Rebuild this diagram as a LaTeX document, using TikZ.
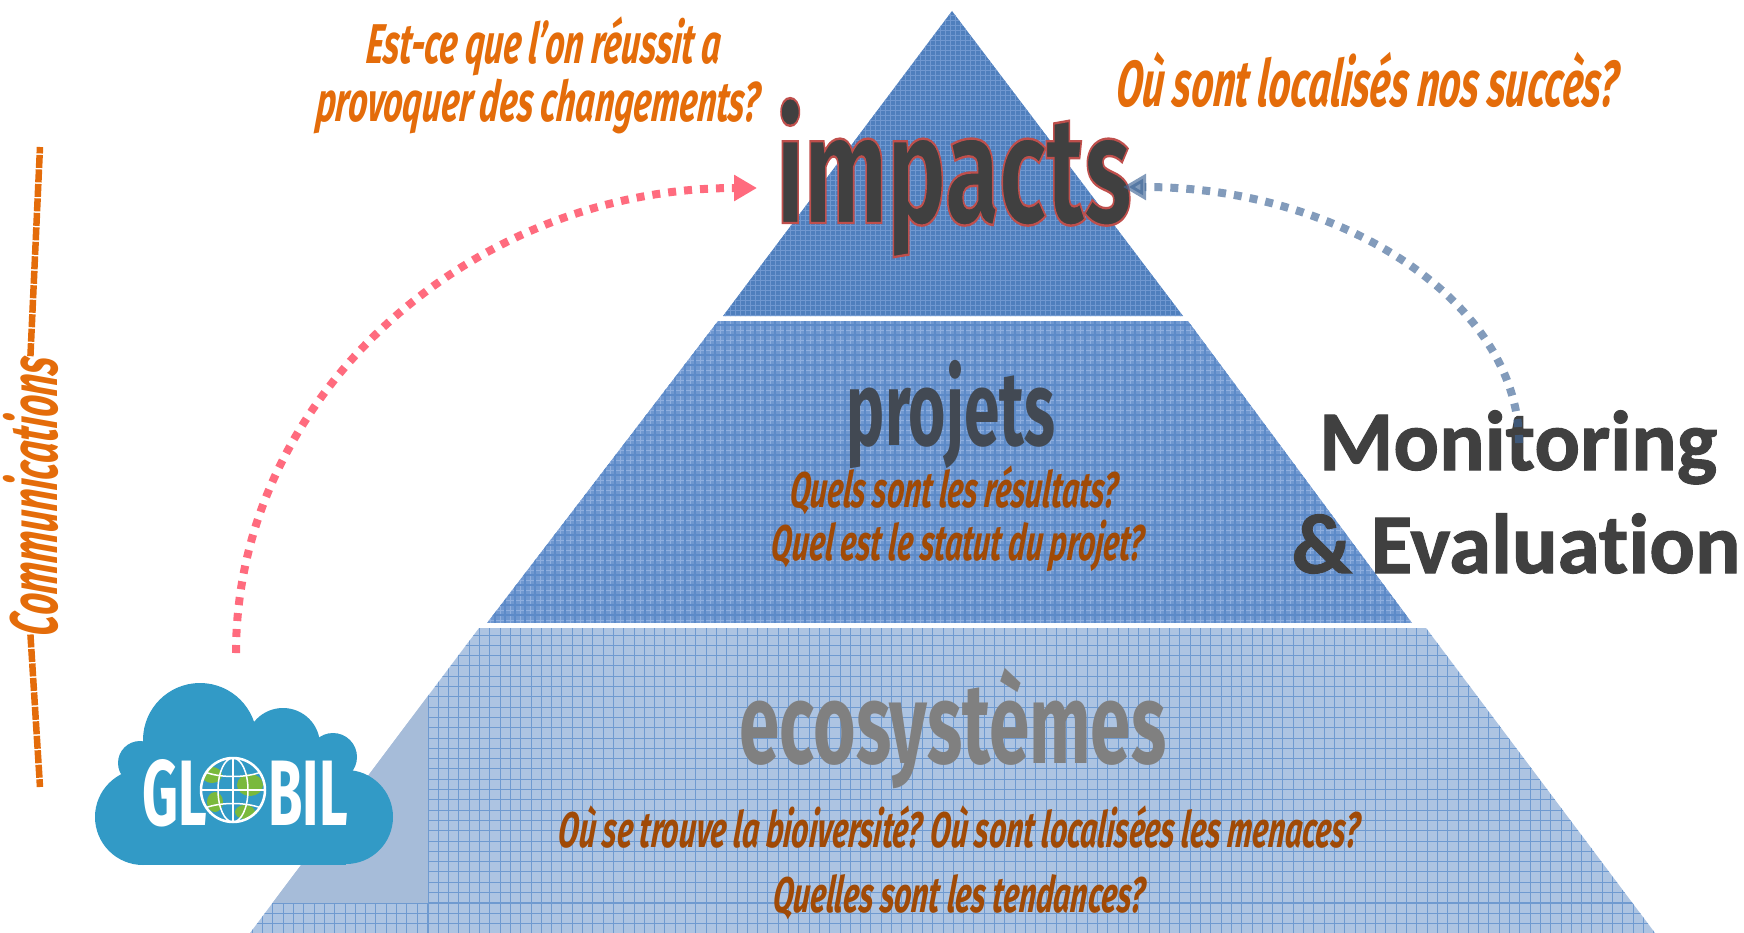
\documentclass[tikz,border=0pt]{standalone}
\usepackage{fontspec}
\setmainfont{Fira Sans}
\newfontfamily\monfont{Carlito}[Ligatures=NoCommon,BoldFeatures={FakeBold=1.2}]
\usetikzlibrary{arrows.meta}
\definecolor{orangeq}{HTML}{E46C0A}
\definecolor{brownq}{HTML}{A04A06}
\definecolor{darkword}{HTML}{404040}
\definecolor{cloudblue}{HTML}{329AC6}
\definecolor{landgreen}{HTML}{7AB93C}
\definecolor{redarrow}{HTML}{FF6B7E}
\definecolor{tierone}{HTML}{4F7FBD}
\definecolor{tiertwo}{HTML}{7098D0}
\definecolor{tierthree}{HTML}{ADC4E2}
\definecolor{tierflat}{HTML}{A6BCD9}
\definecolor{gridblue}{HTML}{6F9AD0}
\definecolor{gridtwo}{HTML}{5C8AC8}
\definecolor{palegrid}{HTML}{8FAFDF}
\begin{document}
\begin{tikzpicture}[x=1pt,y=-1pt]
    \tikzstyle{marrs}=[line width=8pt,dash pattern=on 8pt off 8pt,-{Triangle[length=23pt,width=25pt]}]
    \tikzstyle{qorange}=[anchor=base,inner sep=0pt,text=orangeq,align=center,xslant=0.1,font=\fontsize{56}{58}\selectfont\bfseries\itshape]
    \tikzstyle{qbrown}=[anchor=base,inner sep=0pt,text=brownq,xslant=0.1,font=\fontsize{50}{52}\selectfont\bfseries\itshape,xscale=0.6]
    \tikzstyle{tierword}=[anchor=base,inner sep=0pt,font=\bfseries]
    \tikzstyle{logoword}=[anchor=base,inner sep=0pt,text=white,font=\fontsize{93}{93}\selectfont\bfseries,xscale=0.6]
    \tikzstyle{monword}=[anchor=base,inner sep=0pt,text=darkword,font=\fontsize{85}{85}\selectfont\monfont\bfseries]

    \useasboundingbox (0,0) rectangle (1744,933);

    % top tier
    \begin{scope}
        \clip (952,11) -- (1183,316) -- (723,316) -- cycle;
        \fill[tierone] (700,0) rectangle (1200,320);
        \foreach \x in {720,725,...,1190} {
            \draw[line width=0.7pt,tiertwo] (\x,0) -- (\x,320);
        }
        \foreach \y in {10,15,...,320} {
            \draw[line width=0.7pt,tiertwo] (700,\y) -- (1200,\y);
        }
    \end{scope}

    % middle tier
    \begin{scope}
        \clip (718,321) -- (1188,321) -- (1412,623) -- (487,623) -- cycle;
        \fill[tiertwo] (480,321) rectangle (1420,623);
        \foreach \x in {490,500,...,1420} {
            \draw[line width=1pt,palegrid] (\x,321) -- (\x,623);
        }
        \foreach \y in {330,340,...,623} {
            \draw[line width=1pt,palegrid] (480,\y) -- (1420,\y);
        }
        \foreach \x in {485,495,...,1415} {
            \draw[line width=1.2pt,gridtwo] (\x,321) -- (\x,623);
        }
        \foreach \y in {325,335,...,623} {
            \draw[line width=1.2pt,gridtwo] (480,\y) -- (1420,\y);
        }
    \end{scope}

    % bottom tier
    \begin{scope}
        \clip (479,628) -- (1426,628) -- (1655,933) -- (250,933) -- cycle;
        \fill[tierthree] (240,628) rectangle (1660,933);
        \fill[tierflat] (240,628) rectangle (428,903);
        \foreach \x in {428,438.3,...,1660} {
            \draw[line width=1pt,gridblue] (\x,628) -- (\x,933);
        }
        \foreach \x in {242,252.3,...,428} {
            \draw[line width=1pt,gridblue] (\x,903) -- (\x,933);
        }
        \foreach \y in {635,645.3,...,903} {
            \draw[line width=1pt,gridblue] (428,\y) -- (1660,\y);
        }
        \foreach \y in {903,913.3,...,933} {
            \draw[line width=1pt,gridblue] (240,\y) -- (1660,\y);
        }
    \end{scope}

    \node[tierword,text=darkword,xscale=0.639,font=\fontsize{154}{154}\selectfont\bfseries] (impacts) at (954,223)
        {\special{pdf:code 2 Tr 2.4 w 0.75 0.31 0.30 RG}impacts\special{pdf:code 0 Tr}};
    \node[tierword,text=darkword!85!tierone,xscale=0.61,font=\fontsize{105}{105}\selectfont\bfseries] (projets) at (951,445) {projets};
    \node[tierword,text=black!50,xscale=0.64,font=\fontsize{114}{114}\selectfont\bfseries] (ecosystemes) at (953,763) {ecosystèmes};

    \node[qorange,xscale=0.6] (reussit) at (537,122) {Est-ce que l’on réussit a\\provoquer des changements?};
    \node[qorange,xscale=0.59,font=\fontsize{65}{65}\selectfont\bfseries\itshape] (succes) at (1366,107) {Où sont localisés nos succès?};

    \node[qbrown] (resultats) at (953,507) {Quels sont les résultats?};
    \node[qbrown] (statut) at (957,560) {Quel est le statut du projet?};
    \node[qbrown] (menaces) at (958,847) {Où se trouve la bioiversité? Où sont localisées les menaces?};
    \node[qbrown] (tendances) at (958,912) {Quelles sont les tendances?};

    \node[monword] (monitoring) at (1518,470) {Monitoring};
    \node[monword] (evaluation) at (1516,573) {\& Evaluation};

    % communications
    \node[rotate=90,qorange,xscale=0.555,font=\fontsize{67}{67}\selectfont\bfseries\itshape] (comm) at (57,498) {Communications};
    \coordinate (commtop) at (40,147);
    \coordinate (commbot) at (40,787);
    \draw[orangeq,line width=6.5pt,dash pattern=on 13pt off 1.5pt] (comm.east) -- (commtop);
    \draw[orangeq,line width=6.5pt,dash pattern=on 13pt off 1.5pt] (comm.west) -- (commbot);

    % cloud
    \foreach \x/\y/\r in {200/740/57, 283/745/37, 333/757/24, 140/763/22, 143/817/48, 346/817/47} {
        \fill[cloudblue] (\x,\y) circle (\r);
    }
    \fill[cloudblue] (143,745) rectangle (346,865);
    \node[logoword] (gl) at (175,825) {GL};
    \node[logoword] (bil) at (308,825) {BIL};
    \begin{scope}
        \clip (233,790) circle (32);
        \fill[cloudblue] (200,757) rectangle (266,823);
        \fill[landgreen] (212,775) ellipse (10 and 8);
        \fill[landgreen] (250,785) ellipse (13 and 11);
        \fill[landgreen] (215,802) ellipse (8 and 10);
        \fill[landgreen] (245,812) ellipse (10 and 7);
        \draw[white,line width=1.5pt] (233,758) -- (233,822);
        \draw[white,line width=1.5pt] (233,790) ellipse (15 and 32);
        \draw[white,line width=1.5pt] (201,790) -- (265,790);
        \draw[white,line width=1.5pt] (205,772) .. controls (220,778) and (246,778) .. (261,772);
        \draw[white,line width=1.5pt] (205,808) .. controls (220,802) and (246,802) .. (261,808);
    \end{scope}
    \draw[white,line width=2.5pt] (233,790) circle (32);

    % arrows
    \coordinate (redstart) at (236,653);
    \coordinate (redend) at (757,188);
    \coordinate (bluestart) at (1519,443);
    \coordinate (blueend) at (1123,187);
    \draw[marrs,color=redarrow] (redstart) .. controls (236,397) and (470,188) .. (redend);
    \draw[marrs,color=tierone!80!black,opacity=0.65] (bluestart) .. controls (1519,302) and (1341,187) .. (blueend);
\end{tikzpicture}
\end{document}
